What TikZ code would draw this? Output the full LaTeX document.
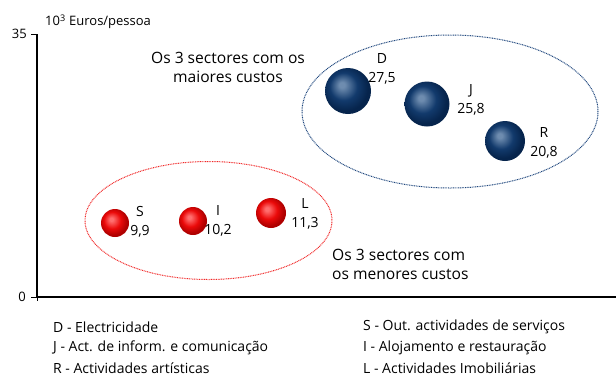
\documentclass[tikz,border=0pt]{standalone}
\usepackage{fontspec}
\setmainfont{Open Sans}
\definecolor{bhi}{RGB}{110,140,175}
\definecolor{bmid}{RGB}{18,58,108}
\definecolor{bdark}{RGB}{6,36,76}
\definecolor{rhi}{RGB}{255,110,110}
\definecolor{rmid}{RGB}{235,10,10}
\definecolor{rdark}{RGB}{175,0,0}
\definecolor{bline}{RGB}{30,70,125}
\definecolor{rline}{RGB}{240,40,40}
\pgfdeclareradialshading{bluesphere}{\pgfpoint{-7bp}{7bp}}{color(0bp)=(bhi); color(3bp)=(bhi); color(15bp)=(bmid); color(25bp)=(bdark); color(50bp)=(bdark)}
\pgfdeclareradialshading{redsphere}{\pgfpoint{-7bp}{7bp}}{color(0bp)=(rhi); color(3bp)=(rhi); color(15bp)=(rmid); color(25bp)=(rdark); color(50bp)=(rdark)}
\tikzset{
  bigtxt/.style={font=\fontsize{15.6}{19}\selectfont, inner sep=0pt, align=left},
  valtxt/.style={font=\fontsize{14}{19}\selectfont, inner sep=0pt, align=center},
  legtxt/.style={font=\fontsize{14}{16}\selectfont, inner sep=0pt, anchor=west},
  axtxt/.style={font=\fontsize{13}{15}\selectfont, inner sep=0pt},
  bball/.style={circle, shading=bluesphere, inner sep=0pt},
  rball/.style={circle, shading=redsphere, inner sep=0pt},
  bring/.style={draw=bline, line width=1pt, dash pattern=on 0.9pt off 0.8pt},
  rring/.style={draw=rline, line width=1pt, dash pattern=on 0.9pt off 0.8pt},
}
\begin{document}
\begin{tikzpicture}[x=1pt,y=-1pt]
\useasboundingbox (0,0) rectangle (616,376);
% axes
\coordinate (ytop) at (37,34);
\coordinate (orig) at (37,297);
\coordinate (xend) at (616,297);
\draw[line width=1.6pt] (ytop) -- (orig) -- (xend);
\draw[line width=0.8pt] (31,34) -- (ytop);
\draw[line width=0.8pt] (31,297) -- (orig);
\draw[line width=0.8pt] (orig) -- (37,301);
\node[axtxt, anchor=east] (t35) at (27,34) {35};
\node[axtxt, anchor=east] (t0) at (26,297) {0};
\node[axtxt, anchor=west] (unit) at (45,22) {10\textsuperscript{3} Euros/pessoa};
% ellipses
\draw[bring] (450,111.5) ellipse [x radius=148, y radius=76.5];
\draw[rring] (208.5,220.5) ellipse [x radius=123.5, y radius=59];
% balls
\node[bball, minimum size=46pt] (D) at (348,91) {};
\node[bball, minimum size=45pt] (J) at (427,104) {};
\node[bball, minimum size=40pt] (R) at (505,141) {};
\node[rball, minimum size=28pt] (S) at (115,223) {};
\node[rball, minimum size=28pt] (I) at (193,221) {};
\node[rball, minimum size=30pt] (L) at (271,213) {};
% values
\node[valtxt] (Dl) at (382,69) {D\\27,5};
\node[valtxt] (Jl) at (471,100) {J\\25,8};
\node[valtxt] (Rl) at (544,143) {R\\20,8};
\node[valtxt] (Sl) at (140,222) {S\\9,9};
\node[valtxt] (Il) at (218,221) {I\\10,2};
\node[valtxt] (Ll) at (305,214) {L\\11,3};
% captions
\node[bigtxt, align=center] (top) at (228,67) {Os 3 sectores com os\\maiores custos};
\node[bigtxt, anchor=west] (bot) at (332,264) {Os 3 sectores com\\os menores custos};
% legend
\node[legtxt] (l1) at (53,327) {D - Electricidade};
\node[legtxt] (l2) at (53,348) {J - Act. de inform. e comunicação};
\node[legtxt] (l3) at (53,368) {R - Actividades artísticas};
\node[legtxt] (l4) at (363,327) {S - Out. actividades de serviços};
\node[legtxt] (l5) at (363,348) {I - Alojamento e restauração};
\node[legtxt] (l6) at (363,368) {L - Actividades Imobiliárias};
\end{tikzpicture}
\end{document}
